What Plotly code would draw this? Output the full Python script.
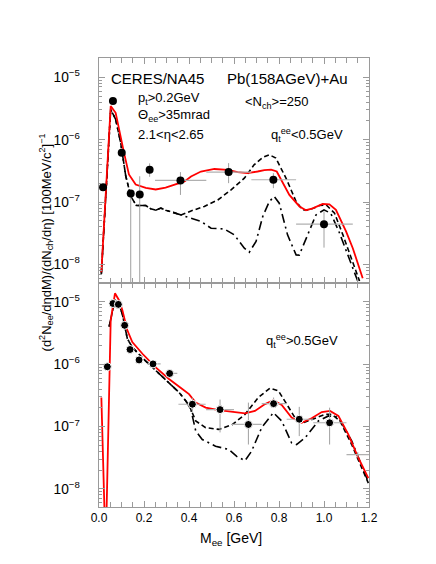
import plotly.graph_objects as go
from plotly.subplots import make_subplots

# ---- top panel: q_t^ee < 0.5 GeV ----
top_m = [0.018, 0.062, 0.101, 0.141, 0.181, 0.225, 0.362, 0.576, 0.775, 1.0]
top_y = [1.73e-7, 4.17e-6, 6.2e-7, 1.37e-7, 1.32e-7, 3.29e-7, 2.22e-7, 3.02e-7, 2.28e-7, 4.42e-8]
top_m_lo = [0.018, 0.062, 0.101, 0.141, 0.181, 0.225, 0.249, 0.477, 0.677, 0.876]
top_m_hi = [0.018, 0.062, 0.101, 0.141, 0.181, 0.225, 0.477, 0.677, 0.876, 1.128]
top_y_lo = [1.73e-7, 4.17e-6, 6.2e-7, 1e-9, 1e-9, 2.54e-7, 1.30e-7, 2.01e-7, 1.67e-7, 1.86e-8]
top_y_hi = [1.73e-7, 4.17e-6, 6.2e-7, 1.37e-7, 2.59e-7, 4.17e-7, 3.02e-7, 4.21e-7, 2.91e-7, 7.1e-8]

top_red_m = [0.0105, 0.052, 0.074, 0.092, 0.111, 0.133, 0.163, 0.208, 0.252, 0.296, 0.32,
             0.38, 0.409, 0.453, 0.513, 0.572, 0.616, 0.66, 0.705, 0.735, 0.765, 0.79,
             0.846, 0.891, 0.92, 0.95, 0.994, 1.024, 1.053, 1.098, 1.128, 1.172]
top_red_y = [7.5e-9, 3.46e-6, 2.70e-6, 1.29e-6, 6.2e-7, 2.77e-7, 1.91e-7, 1.69e-7, 1.59e-7, 1.70e-7, 1.82e-7,
             2.14e-7, 2.57e-7, 3.09e-7, 3.39e-7, 3.29e-7, 3.02e-7, 2.91e-7, 3.09e-7, 3.25e-7, 3.31e-7, 3.09e-7,
             1.30e-7, 8.5e-8, 7.4e-8, 7.9e-8, 9.3e-8, 9.2e-8, 7.5e-8, 3.39e-8, 1.82e-8, 6.0e-9]

top_dash_m = [0.0105, 0.052, 0.074, 0.0965, 0.119, 0.141, 0.166, 0.185, 0.208, 0.23, 0.252, 0.275,
              0.296, 0.32, 0.341, 0.365, 0.409, 0.468, 0.528, 0.587, 0.646, 0.69, 0.728, 0.757,
              0.786, 0.831, 0.876, 0.905, 0.935, 0.98, 1.01, 1.047, 1.084, 1.128, 1.158]
top_dash_y = [7.1e-9, 3.06e-6, 2.12e-6, 8.9e-7, 2.61e-7, 1.24e-7, 8.8e-8, 8.8e-8, 8.8e-8, 7.8e-8, 7.4e-8, 8.0e-8,
              7.4e-8, 7.0e-8, 6.7e-8, 6.2e-8, 7.2e-8, 8.5e-8, 1.08e-7, 1.57e-7, 2.42e-7, 3.98e-7, 5.2e-7, 5.73e-7,
              5.07e-7, 2.42e-7, 1.02e-7, 7.5e-8, 7.5e-8, 8.8e-8, 9.0e-8, 6.6e-8, 2.98e-8, 1.11e-8, 5.4e-9]

top_dd_m = [0.0105, 0.052, 0.074, 0.0965, 0.119, 0.141, 0.166, 0.185, 0.208, 0.23, 0.252, 0.275,
            0.296, 0.32, 0.341, 0.365, 0.409, 0.453, 0.498, 0.557, 0.601, 0.646, 0.668, 0.698,
            0.728, 0.757, 0.779, 0.801, 0.838, 0.876, 0.89, 0.92, 0.964, 1.0, 1.03, 1.066, 1.11, 1.15]
top_dd_y = [7.1e-9, 3.06e-6, 2.12e-6, 8.9e-7, 2.61e-7, 1.24e-7, 8.8e-8, 8.8e-8, 8.8e-8, 7.8e-8, 7.4e-8, 8.0e-8,
            7.4e-8, 7.0e-8, 6.7e-8, 6.2e-8, 5.5e-8, 4.9e-8, 3.8e-8, 3.7e-8, 2.98e-8, 1.82e-8, 1.57e-8, 2.34e-8,
            5.9e-8, 1.02e-7, 1.23e-7, 9.6e-8, 2.98e-8, 1.42e-8, 1.41e-8, 2.63e-8, 6.2e-8, 7.5e-8, 6.6e-8, 3.39e-8, 1.26e-8, 5.4e-9]

# ---- bottom panel: q_t^ee > 0.5 GeV ----
bot_m = [0.037, 0.062, 0.086, 0.114, 0.138, 0.178, 0.24, 0.314, 0.415, 0.538, 0.664, 0.776, 0.89, 1.025, 1.15]
bot_y = [9.1e-7, 9.4e-6, 9.1e-6, 4.2e-6, 1.72e-6, 1.17e-6, 1.01e-6, 7.1e-7, 2.28e-7, 1.87e-7, 1.08e-7,
         2.33e-7, 1.31e-7, 1.15e-7, 3.55e-8]
bot_m_lo = [0.037, 0.062, 0.086, 0.114, 0.138, 0.17, 0.215, 0.297, 0.353, 0.476, 0.59, 0.723, 0.834, 0.952, 1.1]
bot_m_hi = [0.037, 0.062, 0.086, 0.114, 0.138, 0.186, 0.274, 0.348, 0.474, 0.6, 0.723, 0.834, 0.952, 1.1, 1.2]
bot_y_lo = [9.1e-7, 9.4e-6, 9.1e-6, 4.2e-6, 1.45e-6, 1.0e-6, 1.01e-6, 7.1e-7, 1.73e-7, 8.05e-8, 5.15e-8,
            2.01e-7, 7.03e-8, 5.15e-8, 3.2e-8]
bot_y_hi = [9.1e-7, 9.4e-6, 9.1e-6, 4.2e-6, 2.0e-6, 1.35e-6, 1.01e-6, 7.1e-7, 2.92e-7, 2.71e-7, 2.42e-7,
            2.92e-7, 2.07e-7, 2.01e-7, 3.9e-8]
bot_marker = [8, 8, 8, 8, 8, 8, 8, 8, 8, 8, 8, 8, 8, 8, 0]

bot_red_m = [0.0105, 0.027, 0.034, 0.052, 0.071, 0.089, 0.104, 0.126, 0.148, 0.193, 0.252, 0.311,
             0.37, 0.4, 0.43, 0.474, 0.533, 0.607, 0.649, 0.693, 0.738, 0.775, 0.812, 0.856,
             0.901, 0.945, 0.99, 1.027, 1.064, 1.108, 1.153, 1.197]
bot_red_y = [2.92e-7, 2e-9, 5e-9, 5.06e-6, 1.37e-5, 1.06e-5, 7.35e-6, 3.49e-6, 2.26e-6, 1.47e-6, 8.9e-7, 5.79e-7,
             3.99e-7, 3.31e-7, 2.42e-7, 2.01e-7, 1.83e-7, 1.73e-7, 1.63e-7, 1.78e-7, 2.29e-7, 2.65e-7, 2.22e-7, 1.39e-7,
             1.15e-7, 1.36e-7, 1.71e-7, 1.78e-7, 1.48e-7, 7.5e-8, 3.13e-8, 1.49e-8]

bot_dash_m = [0.045, 0.071, 0.089, 0.104, 0.126, 0.148, 0.193, 0.252, 0.311, 0.356, 0.386, 0.408,
              0.43, 0.474, 0.533, 0.593, 0.649, 0.708, 0.76, 0.797, 0.834, 0.871, 0.908, 0.952,
              1.005, 1.034, 1.071, 1.123, 1.197]
bot_dash_y = [4.0e-6, 1.07e-5, 9.3e-6, 6.3e-6, 2.56e-6, 1.87e-6, 1.26e-6, 7.9e-7, 5.1e-7, 3.52e-7, 2.58e-7, 1.9e-7,
              1.23e-7, 9.6e-8, 9.0e-8, 1.08e-7, 1.57e-7, 2.92e-7, 4.14e-7, 3.75e-7, 2.29e-7, 1.39e-7, 1.15e-7, 1.31e-7,
              1.57e-7, 1.57e-7, 1.23e-7, 5.15e-8, 1.24e-8]

bot_dd_m = [0.045, 0.071, 0.089, 0.104, 0.126, 0.148, 0.193, 0.252, 0.311, 0.356, 0.386, 0.408,
            0.43, 0.459, 0.518, 0.577, 0.612, 0.649, 0.678, 0.723, 0.775, 0.812, 0.856, 0.878,
            0.916, 0.975, 1.02, 1.064, 1.123, 1.197]
bot_dd_y = [4.0e-6, 1.07e-5, 9.3e-6, 6.3e-6, 2.56e-6, 1.87e-6, 1.26e-6, 7.9e-7, 5.1e-7, 3.52e-7, 2.58e-7, 1.9e-7,
            8.5e-8, 6.2e-8, 4.84e-8, 4.28e-8, 3.33e-8, 2.84e-8, 4.02e-8, 9.6e-8, 1.67e-7, 1.23e-7, 5.47e-8, 5.15e-8,
            6.6e-8, 1.23e-7, 1.48e-7, 1.41e-7, 5.9e-8, 1.29e-8]

FONT = "Liberation Sans, Arial, Helvetica, sans-serif"
GREY = "#9a9a9a"

fig = make_subplots(rows=2, cols=1, shared_xaxes=True, vertical_spacing=0)


def add_panel(row, red_m, red_y, dash_m, dash_y, dd_m, dd_y, m, y, mlo, mhi, ylo, yhi, sizes):
    fig.add_trace(go.Scatter(x=dd_m, y=dd_y, mode="lines",
                             line=dict(color="black", width=1.6, dash="9px,4px,2px,4px")),
                  row=row, col=1)
    fig.add_trace(go.Scatter(x=dash_m, y=dash_y, mode="lines",
                             line=dict(color="black", width=1.6, dash="5px,3px")),
                  row=row, col=1)
    fig.add_trace(go.Scatter(x=red_m, y=red_y, mode="lines",
                             line=dict(color="#ff0000", width=1.8)),
                  row=row, col=1)
    fig.add_trace(go.Scatter(
        x=m, y=y, mode="markers",
        marker=dict(color="black", size=sizes, opacity=1),
        error_x=dict(type="data", symmetric=False,
                     array=[h - v for h, v in zip(mhi, m)],
                     arrayminus=[v - l for l, v in zip(mlo, m)],
                     color="#b0b0b0", thickness=1.2, width=0),
        error_y=dict(type="data", symmetric=False,
                     array=[h - v for h, v in zip(yhi, y)],
                     arrayminus=[v - l for l, v in zip(ylo, y)],
                     color="#a0a0a0", thickness=1, width=0),
    ), row=row, col=1)


add_panel(1, top_red_m, top_red_y, top_dash_m, top_dash_y, top_dd_m, top_dd_y,
          top_m, top_y, top_m_lo, top_m_hi, top_y_lo, top_y_hi, 8)
add_panel(2, bot_red_m, bot_red_y, bot_dash_m, bot_dash_y, bot_dd_m, bot_dd_y,
          bot_m, bot_y, bot_m_lo, bot_m_hi, bot_y_lo, bot_y_hi, bot_marker)

axis_style = dict(showline=True, linecolor=GREY, linewidth=1, mirror="allticks",
                  ticks="inside", tickcolor=GREY, ticklen=6, showgrid=False, zeroline=False)

fig.update_xaxes(range=[0, 1.2], dtick=0.2, tickformat=".1f", ticklabelstandoff=0,
                 tickfont=dict(size=12),
                 minor=dict(ticks="inside", dtick=0.05, ticklen=5, tickcolor=GREY),
                 **axis_style)
fig.update_yaxes(type="log", range=[-8.29, -4.69], dtick=1, exponentformat="power",
                 ticklabelstandoff=16, tickfont=dict(size=11),
                 minor=dict(ticks="inside", ticklen=3, tickcolor=GREY),
                 **axis_style)

ann = [
    dict(x=0.262, y=0.91, yref="y domain", text="CERES/NA45", xanchor="center", size=15),
    dict(x=0.165, y=0.82, yref="y domain", text="p<sub>t</sub>>0.2GeV", xanchor="left", size=13),
    dict(x=0.165, y=0.745, yref="y domain", text="Θ<sub>ee</sub>>35mrad", xanchor="left", size=13),
    dict(x=0.165, y=0.66, yref="y domain", text="2.1<η<2.65", xanchor="left", size=13),
    dict(x=0.836, y=0.91, yref="y domain", text="Pb(158AGeV)+Au", xanchor="center", size=15),
    dict(x=0.64, y=0.80, yref="y domain", text="<N<sub>ch</sub>>=250", xanchor="left", size=13),
    dict(x=0.755, y=0.656, yref="y domain", text="q<sub>t</sub><sup>ee</sup><0.5GeV", xanchor="left", size=13),
    dict(x=0.733, y=0.738, yref="y2 domain", text="q<sub>t</sub><sup>ee</sup>>0.5GeV", xanchor="left", size=13),
]
for a in ann:
    fig.add_annotation(x=a["x"], y=a["y"], xref="x", yref=a["yref"], text=a["text"],
                       xanchor=a["xanchor"], yanchor="middle", showarrow=False,
                       font=dict(family=FONT, size=a["size"], color="black"))

fig.add_annotation(x=-0.195, y=0.59, xref="paper", yref="paper", textangle=-90,
                   text="(d<sup>2</sup>N<sub>ee</sub>/dηdM)/(dN<sub>ch</sub>/dη) [100MeV/c<sup>2</sup>]<sup>−1</sup>",
                   showarrow=False, xanchor="center", yanchor="middle",
                   font=dict(family=FONT, size=13, color="black"))
fig.add_annotation(x=0.488, y=-0.072, xref="paper", yref="paper",
                   text="M<sub>ee</sub> [GeV]", showarrow=False,
                   xanchor="center", yanchor="middle",
                   font=dict(family=FONT, size=14, color="black"))

fig.update_layout(
    width=436, height=564,
    margin=dict(l=91, r=75, t=50, b=65),
    paper_bgcolor="white", plot_bgcolor="white",
    showlegend=False,
    font=dict(family=FONT, size=12, color="black"),
)

fig.write_html("out.html")
